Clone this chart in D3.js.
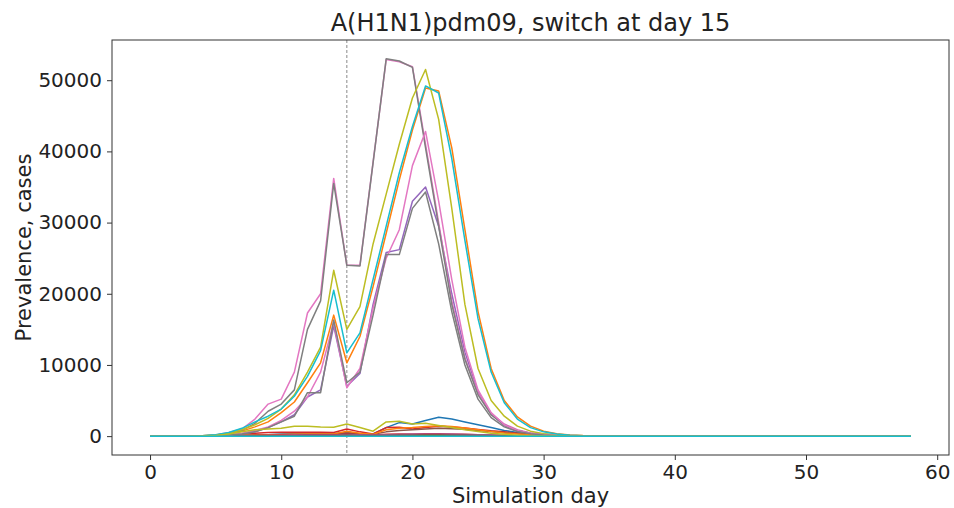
<!DOCTYPE html>
<html>
<head>
<meta charset="utf-8">
<script src="https://cdn.jsdelivr.net/npm/d3@7"></script>
<style>
  body { margin: 0; background: #fff; }
  text { font-family: 'DejaVu Sans', sans-serif; fill: #222; }
</style>
</head>
<body>
<script>
// chart size
var wW = 954;
var wH = 508;

// simulation days, 0..58
var days = d3.range(0, 59);

// tick values
var xTicks = [0, 10, 20, 30, 40, 50, 60];
var yTicks = [0, 10000, 20000, 30000, 40000, 50000];

var switchDay = 15;

// matplotlib tab10 cycle
var palette = ['#1f77b4', '#ff7f0e', '#2ca02c', '#d62728', '#9467bd',
  '#8c564b', '#e377c2', '#7f7f7f', '#bcbd22', '#17becf'];

// prevalence per run, days 0..58
var run00 = [0,0,0,0,10,20,50,100,150,200,250,300,300,300,320,450,350,300,1200,1900,1700,2200,2650,2400,2000,1600,1200,800,500,350,250,150,80,40,20,0,0,0,0,0,0,0,0,0,0,0,0,0,0,0,0,0,0,0,0,0,0,0,0];
var run01 = [0,0,0,10,60,150,350,700,1300,2000,3300,4800,7500,10300,17000,10300,14000,21000,28500,36000,43000,48900,48500,40500,29000,17500,9500,5000,2700,1400,700,350,170,80,40,20,0,0,0,0,0,0,0,0,0,0,0,0,0,0,0,0,0,0,0,0,0,0,0];
var run02 = [0,0,0,0,0,10,20,30,40,50,60,60,60,60,60,80,60,50,100,120,120,120,130,120,100,80,60,40,30,20,10,5,0,0,0,0,0,0,0,0,0,0,0,0,0,0,0,0,0,0,0,0,0,0,0,0,0,0,0];
var run03 = [0,0,0,0,20,50,150,300,400,500,560,560,550,550,500,1000,600,300,1200,1250,1000,1200,1400,1300,1150,950,750,600,420,280,170,90,40,20,0,0,0,0,0,0,0,0,0,0,0,0,0,0,0,0,0,0,0,0,0,0,0,0,0];
var run04 = [0,0,0,10,30,60,150,300,600,1200,2000,3000,5500,6500,15500,7000,8800,18500,25800,26200,33000,35000,29500,20000,11800,6200,3100,1500,750,370,180,90,40,20,0,0,0,0,0,0,0,0,0,0,0,0,0,0,0,0,0,0,0,0,0,0,0,0,0];
var run05 = [0,0,0,0,10,30,60,100,150,200,250,300,300,300,320,500,300,250,600,800,900,1000,1100,1050,950,800,650,500,360,240,150,80,40,20,0,0,0,0,0,0,0,0,0,0,0,0,0,0,0,0,0,0,0,0,0,0,0,0,0];
var run06 = [0,0,0,10,40,150,500,1000,2400,4500,5200,9000,17300,20000,36200,24000,24000,38500,52900,52600,51900,41000,30000,19000,11000,6000,3200,1700,900,450,220,110,50,20,10,0,0,0,0,0,0,0,0,0,0,0,0,0,0,0,0,0,0,0,0,0,0,0,0];
var run07 = [0,0,0,10,30,120,400,800,1800,3500,4500,6500,15000,19000,35500,24000,23900,38400,53000,52700,51800,40500,29500,18500,10800,5800,3000,1600,800,400,200,100,40,20,0,0,0,0,0,0,0,0,0,0,0,0,0,0,0,0,0,0,0,0,0,0,0,0,0];
var run08 = [0,0,0,10,50,150,400,900,1600,2500,3800,5800,9000,12500,23300,15000,18200,27000,34000,41000,47500,51500,44500,32000,18500,9500,5000,2800,1400,700,350,170,80,40,20,0,0,0,0,0,0,0,0,0,0,0,0,0,0,0,0,0,0,0,0,0,0,0,0];
var run09 = [0,0,0,10,60,200,500,1100,2000,2800,3800,5600,8400,12000,20500,11700,14500,22000,29500,37000,43500,49200,48200,39000,27500,16500,9000,4700,2400,1200,600,300,140,60,30,10,0,0,0,0,0,0,0,0,0,0,0,0,0,0,0,0,0,0,0,0,0,0,0];
var run10 = [0,0,0,0,0,0,10,20,30,40,50,60,60,70,80,100,80,60,90,100,100,110,120,110,100,80,60,40,30,20,10,0,0,0,0,0,0,0,0,0,0,0,0,0,0,0,0,0,0,0,0,0,0,0,0,0,0,0,0];
var run11 = [0,0,0,0,10,20,50,100,130,170,200,250,300,300,300,700,400,250,900,1100,1200,1350,1450,1350,1150,900,650,450,300,180,100,50,20,0,0,0,0,0,0,0,0,0,0,0,0,0,0,0,0,0,0,0,0,0,0,0,0,0,0];
var run12 = [0,0,0,0,0,0,0,10,10,20,20,30,30,30,40,50,40,30,50,60,60,60,60,50,40,30,20,10,10,0,0,0,0,0,0,0,0,0,0,0,0,0,0,0,0,0,0,0,0,0,0,0,0,0,0,0,0,0,0];
var run13 = [0,0,0,0,0,10,30,60,90,120,150,170,180,180,190,300,200,150,250,300,300,320,330,300,260,210,160,110,70,40,20,10,0,0,0,0,0,0,0,0,0,0,0,0,0,0,0,0,0,0,0,0,0,0,0,0,0,0,0];
var run14 = [0,0,0,0,0,10,20,40,60,80,100,110,120,120,130,200,150,120,200,240,250,270,280,260,230,190,150,100,60,30,15,5,0,0,0,0,0,0,0,0,0,0,0,0,0,0,0,0,0,0,0,0,0,0,0,0,0,0,0];
var run15 = [0,0,0,0,0,0,10,20,40,50,60,70,80,80,90,150,100,80,130,160,170,180,190,170,150,120,90,60,40,20,10,0,0,0,0,0,0,0,0,0,0,0,0,0,0,0,0,0,0,0,0,0,0,0,0,0,0,0,0];
var run16 = [0,0,0,0,20,50,150,400,800,1300,2200,3500,5500,9000,16000,6800,9500,18000,25000,29000,38000,42800,33000,22000,12500,6500,3300,1600,800,400,200,100,50,20,0,0,0,0,0,0,0,0,0,0,0,0,0,0,0,0,0,0,0,0,0,0,0,0,0];
var run17 = [0,0,0,0,20,50,150,300,600,1200,2000,2800,6100,6100,16300,7500,9000,17000,25500,25500,32000,34300,27000,17500,10000,5200,2600,1300,650,320,150,70,30,10,0,0,0,0,0,0,0,0,0,0,0,0,0,0,0,0,0,0,0,0,0,0,0,0,0];
var run18 = [0,0,0,0,30,100,300,600,900,1000,1100,1400,1400,1300,1250,1700,1200,700,2000,2100,1700,1800,1500,1200,900,650,420,250,140,70,30,10,0,0,0,0,0,0,0,0,0,0,0,0,0,0,0,0,0,0,0,0,0,0,0,0,0,0,0];
var run19 = [0,0,0,0,0,0,0,0,0,0,0,0,0,0,0,0,0,0,0,0,0,0,0,0,0,0,0,0,0,0,0,0,0,0,0,0,0,0,0,0,0,0,0,0,0,0,0,0,0,0,0,0,0,0,0,0,0,0,0];

var runs = [run00, run01, run02, run03, run04, run05, run06, run07, run08, run09,
  run10, run11, run12, run13, run14, run15, run16, run17, run18, run19];

// plot area
var margin = { top: 40, right: 5, bottom: 53, left: 112 };

var svg = d3.select('body').append('svg')
  .attr('width', wW)
  .attr('height', wH);

var x = d3.scaleLinear()
  .domain([-2.9, 60.9])
  .range([margin.left, wW - margin.right]);

var y = d3.scaleLinear()
  .domain([-2650, 55650])
  .range([wH - margin.bottom, margin.top]);

svg.append('clipPath').attr('id', 'plot-clip')
  .append('rect')
  .attr('x', margin.left)
  .attr('y', margin.top)
  .attr('width', wW - margin.right - margin.left)
  .attr('height', wH - margin.bottom - margin.top);

var plot = svg.append('g').attr('clip-path', 'url(#plot-clip)');

// switch day marker
plot.append('line')
  .attr('x1', x(switchDay))
  .attr('x2', x(switchDay))
  .attr('y1', margin.top)
  .attr('y2', wH - margin.bottom)
  .attr('stroke', '#8a8a8a')
  .attr('stroke-width', 1)
  .attr('stroke-dasharray', '3,2');

var line = d3.line()
  .x((d, i) => x(days[i]))
  .y(d => y(d));

runs.forEach((run, i) => {
  plot.append('path')
    .attr('d', line(run))
    .attr('fill', 'none')
    .attr('stroke', palette[i % palette.length])
    .attr('stroke-width', 1.5)
    .attr('stroke-linejoin', 'round');
});

// axes
var xAxis = svg.append('g')
  .attr('transform', 'translate(0,' + (wH - margin.bottom) + ')')
  .call(d3.axisBottom(x).tickValues(xTicks).tickSize(5).tickPadding(5));

var yAxis = svg.append('g')
  .attr('transform', 'translate(' + margin.left + ',0)')
  .call(d3.axisLeft(y).tickValues(yTicks).tickFormat(d3.format('d')).tickSize(5).tickPadding(5));

[xAxis, yAxis].forEach((ax) => {
  ax.select('.domain').remove();
  ax.selectAll('line').attr('stroke', '#333');
  ax.selectAll('text')
    .attr('font-size', 20)
    .attr('font-family', 'DejaVu Sans')
    .attr('fill', '#222');
});

// frame
svg.append('rect')
  .attr('x', margin.left)
  .attr('y', margin.top)
  .attr('width', wW - margin.right - margin.left)
  .attr('height', wH - margin.bottom - margin.top)
  .attr('fill', 'none')
  .attr('stroke', '#333')
  .attr('stroke-width', 1);

// labels
svg.append('text')
  .attr('x', (margin.left + wW - margin.right) / 2)
  .attr('y', 31)
  .attr('text-anchor', 'middle')
  .attr('font-size', 24)
  .text('A(H1N1)pdm09, switch at day 15');

svg.append('text')
  .attr('x', (margin.left + wW - margin.right) / 2)
  .attr('y', 503)
  .attr('text-anchor', 'middle')
  .attr('font-size', 21)
  .text('Simulation day');

svg.append('text')
  .attr('transform', 'translate(31,' + ((margin.top + wH - margin.bottom) / 2) + ') rotate(-90)')
  .attr('text-anchor', 'middle')
  .attr('font-size', 21)
  .text('Prevalence, cases');
</script>
</body>
</html>
